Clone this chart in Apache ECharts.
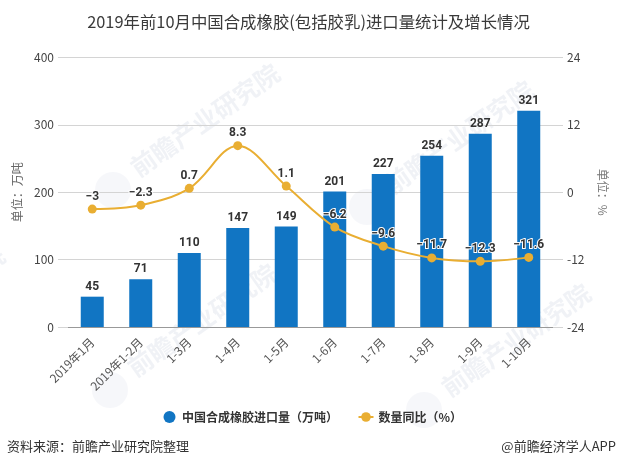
<!DOCTYPE html>
<html>
<head>
<meta charset="utf-8">
<script src="https://cdn.jsdelivr.net/npm/echarts@6/dist/echarts.min.js"></script>
<style>
html, body { margin: 0; padding: 0; background: #fff; }
#chart { width: 617px; height: 468px; }
</style>
</head>
<body>
<div id="chart"></div>
<script>
var months = ['2019年1月', '2019年1-2月', '1-3月', '1-4月', '1-5月', '1-6月', '1-7月', '1-8月', '1-9月', '1-10月'];
var importVolume = [45, 71, 110, 147, 149, 201, 227, 254, 287, 321];
var yoyChange = [-3, -2.3, 0.7, 8.3, 1.1, -6.2, -9.6, -11.7, -12.3, -11.6];
var leftTicks = [0, 100, 200, 300, 400];
var rightTicks = [-24, -12, 0, 12, 24];

var FONT = '"Noto Sans CJK SC", "Noto Sans", sans-serif';
var chart = echarts.init(document.getElementById('chart'));

// 水印：文字中心 + 左下角的圆标
var marks = [[205, 120], [459, 137], [202, 320], [516, 340], [-70, 302]];
var graphics = [];
marks.forEach(function (p) {
    graphics.push({
        type: 'text', x: p[0], y: p[1], rotation: 35 * Math.PI / 180, z: 0,
        style: {
            text: '前瞻产业研究院', fill: 'rgba(200,208,222,0.28)', fontSize: 25, fontWeight: 'bold',
            fontFamily: FONT, align: 'center', verticalAlign: 'middle'
        }
    });
    graphics.push({
        type: 'circle', x: p[0] - 92, y: p[1] + 70, z: 0,
        shape: {r: 18}, style: {fill: 'rgba(200,208,222,0.16)'}
    });
});
graphics.push({
    type: 'text', left: 7, top: 440,
    style: {text: '资料来源：前瞻产业研究院整理', fill: '#333', fontSize: 13, fontFamily: FONT}
});
graphics.push({
    type: 'text', right: 1, top: 440,
    style: {text: '@前瞻经济学人APP', fill: '#333', fontSize: 13, fontFamily: FONT}
});

function dashLabel(p) {
    return String(p.value).replace('-', '\u2212');
}

chart.setOption({
    animation: false,
    title: {
        text: '2019年前10月中国合成橡胶(包括胶乳)进口量统计及增长情况',
        left: 'center', top: 9,
        textStyle: {color: '#3a3a3a', fontSize: 16.4, fontWeight: 'normal', fontFamily: FONT}
    },
    legend: {
        top: 406, left: 158.5, itemWidth: 15, itemHeight: 12, itemGap: 19.5,
        textStyle: {color: '#333', fontSize: 12, fontWeight: 'bold', fontFamily: FONT},
        data: [{name: '中国合成橡胶进口量（万吨）', icon: 'circle'}, {name: '数量同比（%）'}]
    },
    grid: {left: 68, right: 62, top: 57.5, bottom: 141},
    graphic: graphics,
    xAxis: {
        type: 'category', data: months,
        axisLine: {lineStyle: {color: '#999'}},
        axisTick: {alignWithLabel: true, length: 5, lineStyle: {color: '#999'}},
        axisLabel: {rotate: 45, color: '#555', fontSize: 12, margin: 13, interval: 0, fontFamily: FONT}
    },
    yAxis: [{
        type: 'value', min: 0, max: 400, interval: 100,
        name: '单位：万吨', nameLocation: 'middle', nameRotate: 90, nameGap: 44,
        nameTextStyle: {color: '#666', fontSize: 12, fontFamily: FONT},
        axisLine: {show: false},
        axisTick: {show: true, length: 10, lineStyle: {color: '#d4d4d4'}},
        axisLabel: {color: '#444', fontSize: 12, margin: 14, fontFamily: FONT},
        splitLine: {lineStyle: {color: '#d4d4d4'}}
    }, {
        type: 'value', min: -24, max: 24, interval: 12,
        name: '单位：%', nameLocation: 'middle', nameRotate: -90, nameGap: 44,
        nameTextStyle: {color: '#777', fontSize: 12, fontFamily: FONT},
        axisLine: {show: false},
        axisTick: {show: true, length: 10, lineStyle: {color: '#d4d4d4'}},
        axisLabel: {color: '#444', fontSize: 12, margin: 14, fontFamily: FONT},
        splitLine: {show: false}
    }],
    series: [{
        name: '中国合成橡胶进口量（万吨）', type: 'bar', yAxisIndex: 0, data: importVolume, barWidth: 23,
        itemStyle: {color: '#1175c3'},
        label: {show: true, position: 'top', distance: 4, color: '#333', fontSize: 12, fontWeight: 'bold', fontFamily: 'Roboto, sans-serif'}
    }, {
        name: '数量同比（%）', type: 'line', yAxisIndex: 1, data: yoyChange, smooth: 0.35,
        symbol: 'circle', symbolSize: 9,
        lineStyle: {color: '#e9ae32', width: 2}, itemStyle: {color: '#e9ae32'},
        label: {
            show: true, position: 'top', distance: 2, color: '#333', fontSize: 12, fontWeight: 'bold',
            fontFamily: 'Roboto, sans-serif', textBorderColor: '#fff', textBorderWidth: 2, formatter: dashLabel
        }
    }]
});
</script>
</body>
</html>
